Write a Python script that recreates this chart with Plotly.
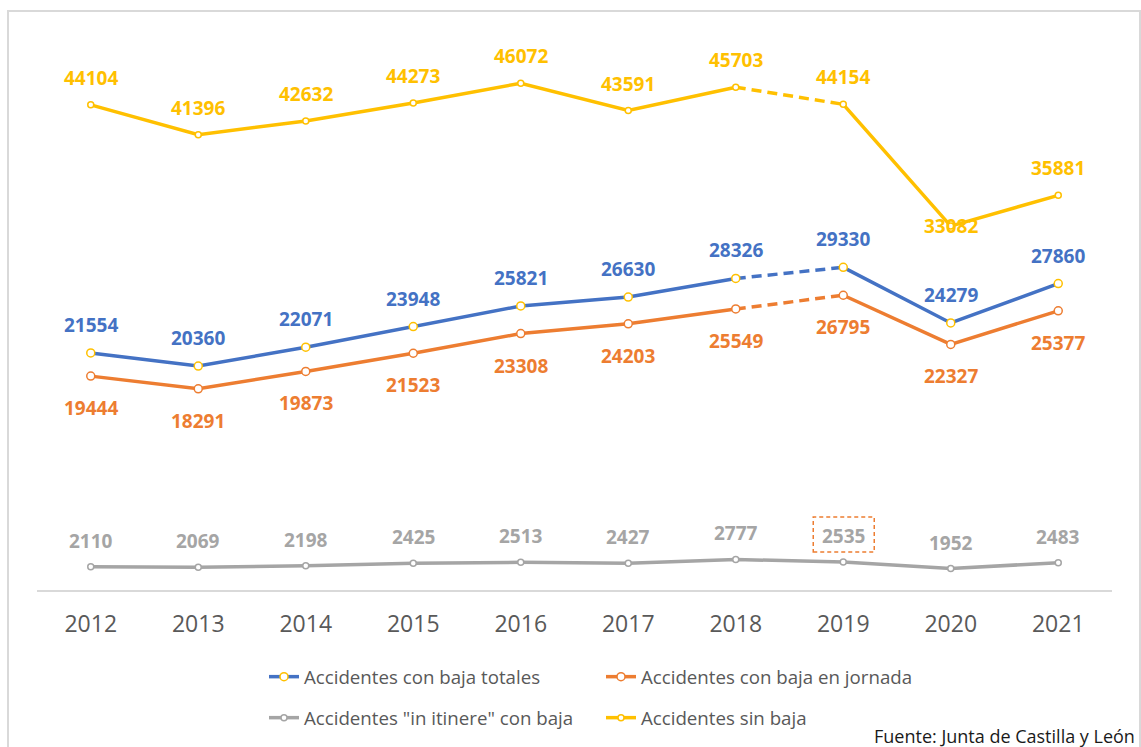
import plotly.graph_objects as go

# ---- data ----
years = [2012, 2013, 2014, 2015, 2016, 2017, 2018, 2019, 2020, 2021]
con_baja_totales = [21554, 20360, 22071, 23948, 25821, 26630, 28326, 29330, 24279, 27860]
con_baja_jornada = [19444, 18291, 19873, 21523, 23308, 24203, 25549, 26795, 22327, 25377]
in_itinere = [2110, 2069, 2198, 2425, 2513, 2427, 2777, 2535, 1952, 2483]
sin_baja = [44104, 41396, 42632, 44273, 46072, 43591, 45703, 44154, 33082, 35881]

names = ["Accidentes con baja totales", "Accidentes con baja en jornada",
         'Accidentes "in itinere" con baja', "Accidentes sin baja"]
source = "Fuente: Junta de Castilla y León"

# ---- styles ----
BLUE, ORANGE, GRAY, YELLOW = "#4472C4", "#ED7D31", "#A5A5A5", "#FFC000"
FONT = "Open Sans"
W, H = 1141, 747
L, R, T, B = 37, 29, 40, 157
PW, PH = W - L - R, H - T - B

styles = [
    dict(vals=con_baja_totales, color=BLUE, mline=YELLOW, msize=8, dashed=True, legend="legend", shift=28),
    dict(vals=con_baja_jornada, color=ORANGE, mline=ORANGE, msize=8, dashed=True, legend="legend", shift=-32),
    dict(vals=in_itinere, color=GRAY, mline=GRAY, msize=6, dashed=False, legend="legend2", shift=26),
    dict(vals=sin_baja, color=YELLOW, mline=YELLOW, msize=6, dashed=True, legend="legend2", shift=27),
]
BREAK = years.index(2019)

fig = go.Figure()
for name, st in zip(names, styles):
    vals = st["vals"]
    line = dict(color=st["color"], width=3.5)
    marker = dict(size=st["msize"], color="white", line=dict(color=st["mline"], width=1.5))
    if st["dashed"]:
        fig.add_trace(go.Scatter(x=years[BREAK - 1:BREAK + 1], y=vals[BREAK - 1:BREAK + 1], mode="lines",
                                 line=dict(color=st["color"], width=3.5, dash="10px,6px"),
                                 showlegend=False, hoverinfo="skip", legendgroup=name))
        segs = [(years[:BREAK], vals[:BREAK]), (years[BREAK:], vals[BREAK:])]
    else:
        segs = [(years, vals)]
    for i, (xs, ys) in enumerate(segs):
        fig.add_trace(go.Scatter(x=xs, y=ys, mode="lines+markers", name=name, line=line, marker=marker,
                                 showlegend=(i == 0), legendgroup=name, legend=st["legend"]))

# ---- data labels ----
annotations = []
for st in styles:
    for yr, v in zip(years, st["vals"]):
        shift = st["shift"]
        if st["color"] == YELLOW and yr == 2020:
            shift = 0
        annotations.append(dict(x=yr, y=v, xref="x", yref="y", text=f"<b>{v}</b>", showarrow=False,
                                yshift=shift, font=dict(family=FONT, size=19, color=st["color"])))

annotations.append(dict(x=(1137 - L) / PW, y=(H - B - 736) / PH, xref="paper", yref="paper", text=source,
                        showarrow=False, xanchor="right", yanchor="middle",
                        font=dict(family=FONT, size=18, color="#1a1a1a")))

shapes = [
    # outer frame
    dict(type="rect", xref="paper", yref="paper", x0=(8 - L) / PW, x1=(1140 - L) / PW,
         y0=-0.5, y1=(H - B - 11) / PH, line=dict(color="#D9D9D9", width=2), layer="below"),
    # highlighted 2019 label box
    dict(type="rect", xref="x", yref="y", xsizemode="pixel", ysizemode="pixel",
         xanchor=2019, yanchor=in_itinere[years.index(2019)], x0=-30, x1=31, y0=10, y1=45,
         line=dict(color=ORANGE, width=1.5, dash="4px,3px")),
]

fig.update_layout(
    width=W, height=H,
    margin=dict(l=L, r=R, t=T, b=B, autoexpand=False),
    paper_bgcolor="white", plot_bgcolor="white",
    font=dict(family=FONT, color="#595959"),
    xaxis=dict(range=[2011.5, 2021.5], tickvals=years, ticktext=[str(y) for y in years],
               showgrid=False, zeroline=False, showline=True, linecolor="#D9D9D9", linewidth=1.5,
               ticks="", tickfont=dict(family=FONT, size=23, color="#595959"), ticklabelstandoff=13),
    yaxis=dict(range=[0, 50000], visible=False),
    legend=dict(orientation="h", xref="container", yref="container", x=264 / W, y=1 - 677 / H,
                xanchor="left", yanchor="middle", entrywidth=292, entrywidthmode="pixels",
                font=dict(family=FONT, size=18.7, color="#595959"), bgcolor="rgba(0,0,0,0)"),
    legend2=dict(orientation="h", xref="container", yref="container", x=264 / W, y=1 - 718 / H,
                 xanchor="left", yanchor="middle", entrywidth=292, entrywidthmode="pixels",
                 font=dict(family=FONT, size=18.7, color="#595959"), bgcolor="rgba(0,0,0,0)"),
    annotations=annotations,
    shapes=shapes,
)

fig.write_html("out.html", config={"displayModeBar": False},
               post_script="document.body.style.margin='0px';document.body.style.overflow='hidden';")
